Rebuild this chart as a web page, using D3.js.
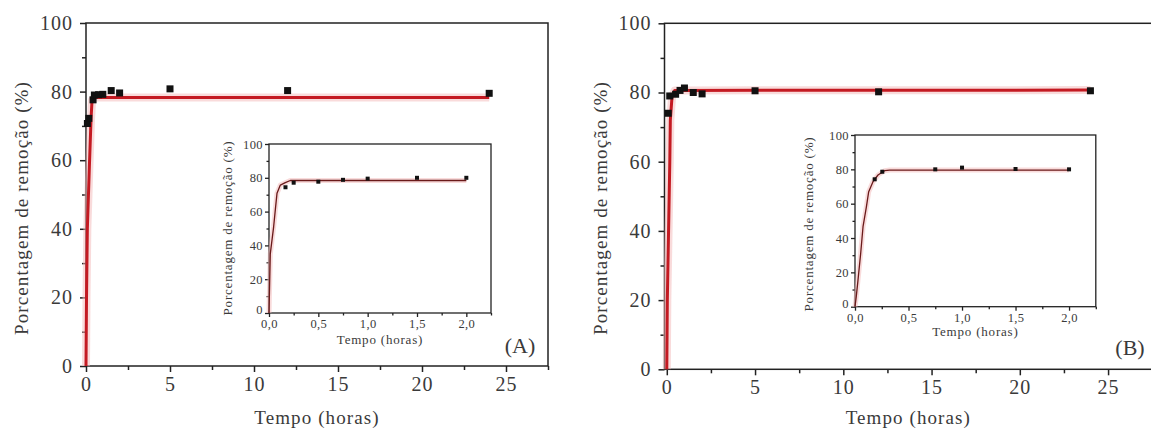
<!DOCTYPE html>
<html>
<head>
<meta charset="utf-8">
<script src="https://cdn.jsdelivr.net/npm/d3@7"></script>
<style>
  html, body { margin: 0; padding: 0; background: #fff; }
  svg { display: block; font-family: "Liberation Serif", "Times New Roman", Times, serif; }
  svg text { font-family: "Liberation Serif", "Times New Roman", Times, serif; fill: #3a3a3a; font-weight: normal; }
</style>
</head>
<body>
<svg id="chart" width="1151" height="433"></svg>
<script>
// ---------- data ----------
const mainTicksX = [0, 5, 10, 15, 20, 25];
const mainMinorX = [2.5, 7.5, 12.5, 17.5, 22.5, 27.5];
const mainTicksY = [0, 20, 40, 60, 80, 100];
const mainMinorY = [10, 30, 50, 70, 90];
const insetTicksX = [0, 0.5, 1, 1.5, 2];
const insetTickLabelsX = ["0,0", "0,5", "1,0", "1,5", "2,0"];
const insetMinorX = [0.25, 0.75, 1.25, 1.75, 2.25];
const insetTicksY = [0, 20, 40, 60, 80, 100];
const insetMinorY = [10, 30, 50, 70, 90];

const yTitle = "Porcentagem de remoção (%)";
const xTitle = "Tempo (horas)";
const panelLabels = ["(A)", "(B)"];

// Panel A – main (0–24 h)
const mainA_time    = [0.083, 0.167, 0.42, 0.5, 0.75, 1.0, 1.5, 2.0, 5.0, 12.0, 24.0];
const mainA_removal = [70.7, 72.2, 77.6, 79.0, 79.1, 79.2, 80.3, 79.6, 80.8, 80.3, 79.5];
const mainA_fitTime    = [0, 0.03, 0.08, 0.2, 0.3, 0.36, 0.5, 24.0];
const mainA_fitRemoval = [0, 20, 40, 58, 72, 77.5, 78.3, 78.3];

// Panel A – inset (0–2 h)
const insetA_time    = [0.167, 0.25, 0.5, 0.75, 1.0, 1.5, 2.0];
const insetA_removal = [74.4, 77.1, 77.7, 78.8, 79.5, 80.0, 80.0];
const insetA_fitTime    = [0, 0.013, 0.047, 0.064, 0.081, 0.115, 0.165, 0.216, 2.0];
const insetA_fitRemoval = [0, 35, 51, 61, 70.8, 75.7, 77.1, 78.4, 78.4];

// Panel B – main (0–24 h)
const mainB_time    = [0.083, 0.167, 0.5, 0.75, 1.0, 1.5, 2.0, 5.0, 12.0, 24.0];
const mainB_removal = [74.0, 79.0, 79.5, 80.6, 81.3, 80.0, 79.6, 80.5, 80.2, 80.5];
const mainB_fitTime    = [0, 0.03, 0.1, 0.17, 0.2, 0.3, 0.45, 24.0];
const mainB_fitRemoval = [0, 20, 40, 60, 72, 79, 80.6, 80.7];

// Panel B – inset (0–2 h)
const insetB_time    = [0.184, 0.255, 0.75, 1.0, 1.5, 2.0];
const insetB_removal = [74.2, 78.6, 80.0, 81.0, 80.2, 80.0];
const insetB_fitTime    = [0, 0.012, 0.028, 0.053, 0.075, 0.106, 0.128, 0.168, 0.215, 0.277, 0.324, 2.0];
const insetB_fitRemoval = [0, 6, 15.5, 31, 46.6, 58, 67, 72.8, 76.7, 79.2, 79.6, 79.6];

// ---------- drawing ----------
const FONT = "'Liberation Serif', 'Times New Roman', Times, serif";
const svg = d3.select("#chart");
const zip = (a, b) => a.map((v, i) => [v, b[i]]);

function drawPlot(cfg) {
  const g = svg.append("g");
  const x = d3.scaleLinear().domain(cfg.xDomain).range(cfg.xRange);
  const y = d3.scaleLinear().domain([0, 100]).range(cfg.yRange);
  const [x0, x1] = cfg.xRange, [y0, y1] = cfg.yRange;

  g.append("rect").attr("x", x0).attr("y", y1).attr("width", x1 - x0).attr("height", y0 - y1)
    .attr("fill", "#fff");

  const fmtX = cfg.xLabels ? (d => cfg.xLabels[cfg.xTicks.indexOf(d)]) : d3.format("d");
  const ax = g.append("g").attr("transform", `translate(0,${y0})`)
    .call(d3.axisBottom(x).tickValues(cfg.xTicks).tickSize(cfg.major).tickPadding(cfg.padX).tickFormat(fmtX));
  const axm = g.append("g").attr("transform", `translate(0,${y0})`)
    .call(d3.axisBottom(x).tickValues(cfg.xMinor.filter(v => x(v) <= x1 + 0.5)).tickSize(cfg.minor).tickFormat(""));
  const ay = g.append("g").attr("transform", `translate(${x0},0)`)
    .call(d3.axisLeft(y).tickValues(cfg.yTicks).tickSize(cfg.major).tickPadding(cfg.padY).tickFormat(d3.format("d")));
  const aym = g.append("g").attr("transform", `translate(${x0},0)`)
    .call(d3.axisLeft(y).tickValues(cfg.yMinor).tickSize(cfg.minor).tickFormat(""));
  [ax, axm, ay, aym].forEach(a => {
    a.attr("font-family", FONT);
    a.select(".domain").remove();
    a.selectAll(".tick line").attr("stroke", "#222").attr("stroke-width", cfg.frameW);
    a.selectAll("text").attr("font-size", cfg.tickFont).attr("letter-spacing", cfg.tickLS)
      .attr("fill", "#3a3a3a").attr("font-family", FONT);
  });
  ay.selectAll(".tick").filter(d => d === 0).select("text").attr("dy", cfg.zeroDy);

  g.append("rect").attr("x", x0).attr("y", y1).attr("width", x1 - x0).attr("height", y0 - y1)
    .attr("fill", "none").attr("stroke", "#222").attr("stroke-width", cfg.frameW);

  const line = d3.line().x(d => x(d[0])).y(d => y(d[1]));
  const fit = zip(cfg.fitT, cfg.fitV);
  g.append("path").datum(fit).attr("d", line).attr("fill", "none")
    .attr("stroke", "#f4b8b8").attr("stroke-width", cfg.glowW).attr("opacity", 0.5)
    .attr("stroke-linejoin", "round");
  g.append("path").datum(fit).attr("d", line).attr("fill", "none")
    .attr("stroke", cfg.lineColor).attr("stroke-width", cfg.lineW).attr("stroke-linejoin", "round");

  const pts = zip(cfg.ptT, cfg.ptV);
  g.selectAll(".pt").data(pts).enter().append("rect")
    .attr("x", d => x(d[0]) - cfg.ms / 2).attr("y", d => y(d[1]) - cfg.ms / 2)
    .attr("width", cfg.ms).attr("height", cfg.ms).attr("fill", "#111");

  g.append("text").attr("x", (x0 + x1) / 2).attr("y", cfg.xTitleY)
    .attr("text-anchor", "middle").attr("font-family", FONT)
    .attr("font-size", cfg.titleFont).attr("letter-spacing", cfg.titleLS).text(xTitle);
  g.append("text").attr("transform", `translate(${cfg.yTitleX},${cfg.yTitleY}) rotate(-90)`)
    .attr("text-anchor", "middle").attr("font-family", FONT)
    .attr("font-size", cfg.titleFont).attr("letter-spacing", cfg.titleLS).text(yTitle);
  return { x, y };
}

const mainStyle = { major: 6, minor: 4, padX: 5, padY: 7, frameW: 1.5, tickFont: 20, tickLS: 1,
  titleFont: 19, titleLS: 1.1, lineW: 3, glowW: 8, lineColor: "#c41a22", ms: 7, zeroDy: "0.32em",
  xTicks: mainTicksX, xMinor: mainMinorX, yTicks: mainTicksY, yMinor: mainMinorY };
const insetStyle = { major: 4, minor: 2.5, padX: 2, padY: 2, frameW: 1.3, tickFont: 12.5, tickLS: 0.4,
  titleFont: 13, titleLS: 0.8, lineW: 1.3, glowW: 5, lineColor: "#6a1a1a", ms: 4, zeroDy: "0.05em",
  xTicks: insetTicksX, xLabels: insetTickLabelsX, xMinor: insetMinorX, yTicks: insetTicksY, yMinor: insetMinorY };

// Panel A
drawPlot(Object.assign({}, mainStyle, {
  xDomain: [0, 27.5], xRange: [86, 548], yRange: [366, 23],
  fitT: mainA_fitTime, fitV: mainA_fitRemoval, ptT: mainA_time, ptV: mainA_removal,
  xTitleY: 424, yTitleX: 28, yTitleY: 208
}));
drawPlot(Object.assign({}, insetStyle, {
  xDomain: [0, 2.25], xRange: [269, 491], yRange: [313, 144],
  fitT: insetA_fitTime, fitV: insetA_fitRemoval, ptT: insetA_time, ptV: insetA_removal,
  xTitleY: 344, yTitleX: 232, yTitleY: 228
}));
svg.append("text").attr("x", 520).attr("y", 353).attr("text-anchor", "middle")
  .attr("font-family", FONT).attr("font-size", 22).text(panelLabels[0]);

// Panel B
drawPlot(Object.assign({}, mainStyle, {
  xDomain: [-0.13, 27.5], xRange: [664.5, 1152.2], yRange: [369.3, 23.3],
  fitT: mainB_fitTime, fitV: mainB_fitRemoval, ptT: mainB_time, ptV: mainB_removal,
  xTitleY: 424, yTitleX: 607, yTitleY: 208
}));
drawPlot(Object.assign({}, insetStyle, {
  xDomain: [0, 2.25], xRange: [855, 1095.8], yRange: [306.7, 135],
  fitT: insetB_fitTime, fitV: insetB_fitRemoval, ptT: insetB_time, ptV: insetB_removal,
  xTitleY: 336, yTitleX: 813, yTitleY: 224
}));
svg.append("text").attr("x", 1130).attr("y", 355).attr("text-anchor", "middle")
  .attr("font-family", FONT).attr("font-size", 22).text(panelLabels[1]);
</script>
</body>
</html>
